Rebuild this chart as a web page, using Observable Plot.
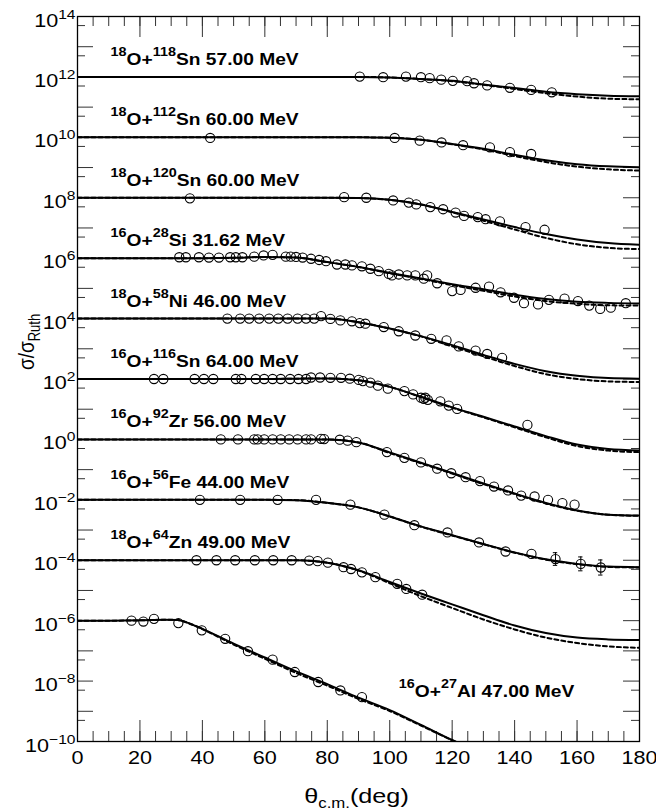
<!DOCTYPE html>
<html><head><meta charset="utf-8">
<script src="https://cdn.jsdelivr.net/npm/d3@7"></script>
<script src="https://cdn.jsdelivr.net/npm/@observablehq/plot@0.6"></script>
<style>body{margin:0;background:#fff}</style>
</head><body><div id="chart"></div>
<script>
// ---------- data ----------
const reactionLabels = [
  "^{18}O+^{118}Sn 57.00 MeV", "^{18}O+^{112}Sn 60.00 MeV", "^{18}O+^{120}Sn 60.00 MeV",
  "^{16}O+^{28}Si 31.62 MeV", "^{18}O+^{58}Ni 46.00 MeV", "^{16}O+^{116}Sn 64.00 MeV",
  "^{16}O+^{92}Zr 56.00 MeV", "^{16}O+^{56}Fe 44.00 MeV", "^{18}O+^{64}Zn 49.00 MeV",
  "^{16}O+^{27}Al 47.00 MeV"
];
// vertical offset (power of ten) applied to each reaction
const offsetExp = [12, 10, 8, 6, 4, 2, 0, -2, -4, -6];
// label anchor (theta, log10 y)
const labelTheta = [10.6, 10.6, 10.6, 10.6, 10.6, 10.6, 10.6, 10.6, 10.6, 102.9];
const labelExp = [12.4, 10.4, 8.4, 6.4, 4.4, 2.4, 0.4, -1.6, -3.6, -8.53];

// calculated curves, log10(sigma/sigma_Ruth) on a common angular grid
const theta = [0,10,20,30,40,50,60,70,80,90,100,110,120,130,140,150,160,170,180];
const solidLog = [
  [0,0,0,0,0,0,0,0,0,0,-0.02,-0.07,-0.13,-0.25,-0.37,-0.49,-0.57,-0.62,-0.64],
  [0,0,0,0,0,0,0,0,0,0,-0.01,-0.08,-0.22,-0.38,-0.58,-0.76,-0.89,-0.96,-0.99],
  [0,0,0,0,0,0,0,0,0,-0.01,-0.07,-0.22,-0.47,-0.72,-0.97,-1.20,-1.38,-1.50,-1.56],
  [0,0,0,0,0,0.01,0.04,0.02,-0.13,-0.29,-0.49,-0.67,-0.86,-1.03,-1.21,-1.35,-1.44,-1.48,-1.50],
  [0,0,0,0,0,0,0,0,0,-0.12,-0.33,-0.58,-0.88,-1.20,-1.50,-1.74,-1.89,-1.97,-1.99],
  [0,0,0,0,0,0,0,0.01,0.02,-0.04,-0.26,-0.59,-0.94,-1.25,-1.57,-1.89,-2.17,-2.32,-2.37],
  [0,0,0,0,0,0,0,0,0,-0.10,-0.43,-0.77,-1.11,-1.46,-1.79,-2.10,-2.35,-2.49,-2.52],
  [0,0,0,0,0,0,0,-0.01,-0.10,-0.25,-0.55,-0.88,-1.17,-1.46,-1.74,-1.97,-2.12,-2.21,-2.23],
  [0,0,0,0,0,0,0,0,-0.08,-0.33,-0.72,-1.10,-1.46,-1.82,-2.16,-2.41,-2.56,-2.62,-2.64]
];
const dashedLog = [
  [0,0,0,0,0,0,0,0,0,0,-0.02,-0.07,-0.14,-0.26,-0.40,-0.54,-0.65,-0.72,-0.74],
  [0,0,0,0,0,0,0,0,0,0,-0.01,-0.08,-0.23,-0.40,-0.62,-0.82,-0.97,-1.06,-1.10],
  [0,0,0,0,0,0,0,0,0,-0.01,-0.07,-0.22,-0.48,-0.76,-1.05,-1.33,-1.54,-1.66,-1.70],
  [0,0,0,0,0,0.01,0.04,0.02,-0.13,-0.29,-0.50,-0.69,-0.89,-1.08,-1.27,-1.42,-1.51,-1.56,-1.57],
  [0,0,0,0,0,0,0,0,0,-0.12,-0.33,-0.59,-0.92,-1.25,-1.57,-1.84,-2.00,-2.08,-2.10],
  [0,0,0,0,0,0,0,0.01,0.02,-0.04,-0.26,-0.60,-0.95,-1.27,-1.60,-1.93,-2.22,-2.37,-2.42],
  [0,0,0,0,0,0,0,0,0,-0.10,-0.45,-0.79,-1.13,-1.48,-1.81,-2.12,-2.36,-2.49,-2.53],
  [0,0,0,0,0,0,0,-0.01,-0.10,-0.25,-0.55,-0.89,-1.18,-1.47,-1.75,-1.98,-2.13,-2.22,-2.24],
  [0,0,0,0,0,0,0,0,-0.08,-0.34,-0.76,-1.19,-1.58,-1.96,-2.29,-2.56,-2.74,-2.85,-2.90]
];
// 16O+27Al has its own grid
const thetaAl = [0,10,20,28,32,36,40,50,60,70,80,90,100,110,120,130];
const solidLogAl = [0,0,0.01,0.03,0.02,-0.10,-0.27,-0.76,-1.22,-1.68,-2.10,-2.55,-2.96,-3.45,-3.95,-4.40];
const dashedLogAl = [0,0,0.01,0.03,0.02,-0.10,-0.28,-0.79,-1.26,-1.73,-2.15,-2.59,-2.99,-3.47,-3.96,-4.40];

// measured points [theta, log10(sigma/sigma_Ruth)]
const dataPoints = [
  [[90.4,0.01],[97.9,-0.01],[105.2,0.01],[110,-0.01],[112.8,-0.04],[116.5,-0.09],[120.2,-0.13],[124.8,-0.14],[127,-0.21],[131.2,-0.28],[138.5,-0.36],[145.3,-0.43],[151.9,-0.51]],
  [[42.5,-0.02],[101.6,-0.02],[109.6,-0.11],[116.6,-0.17],[123.5,-0.26],[132.1,-0.33],[138.5,-0.49],[145.3,-0.55]],
  [[36,-0.02],[85.4,0.02],[92.5,0],[101.1,-0.09],[106.1,-0.16],[108.5,-0.22],[113,-0.31],[117.1,-0.38],[121.1,-0.49],[123.8,-0.6],[128.2,-0.64],[130.7,-0.71],[135.3,-0.78],[143.5,-0.97],[149.6,-1.06]],
  [[32.6,0.03],[34.7,0.03],[38.9,0.03],[42.1,0.02],[45.3,0.02],[48.9,0.03],[50.7,0.03],[52.8,0.03],[56.6,0.05],[59.6,0.09],[62.5,0.11],[66.7,0.05],[68.3,0.05],[70,0.04],[72.1,0.02],[74.8,-0.02],[77.4,-0.06],[79.6,-0.1],
   [83.1,-0.21],[85.8,-0.21],[87.9,-0.24],[91.1,-0.27],[93.8,-0.35],[96.5,-0.43],[99.7,-0.52],[100.7,-0.57],[102.9,-0.54],[105.6,-0.57],[108.2,-0.57],[110.9,-0.68],[112,-0.57],[115.2,-0.83],[120,-1.09],[122.7,-1.05],[127.5,-0.98],[131.8,-0.94],[135.5,-1.13],[139.8,-1.31],[143,-1.49],[147.5,-1.53],[151,-1.38],[156,-1.34],[160.3,-1.42],[163.9,-1.57],[167.4,-1.68],[170.8,-1.64],[175.6,-1.49]],
  [[48,0],[52.1,0],[55,0],[58.2,0],[61.4,0],[64.3,0],[67.3,0],[70.5,0],[73.2,0],[75.8,0],[78,0.08],[81,-0.01],[84.2,-0.06],[87.9,-0.09],[90.4,-0.15],[92.2,-0.17],[98.1,-0.28],[102.9,-0.42],[108.2,-0.56],[113.3,-0.67],[118.2,-0.72],[122.1,-0.92],[127.5,-1.06],[131.2,-1.17],[136,-1.30]],
  [[24.5,0],[27.5,0],[37.5,0],[40.5,0],[43.5,0],[50.7,0],[52.5,0],[57.1,0],[59.8,0],[62.5,0],[65.1,0],[68.1,0],[70.8,0],[73.2,0],[74.8,0.05],[77.7,0.05],[81,0.04],[84.4,0.04],[87.2,0.01],[90.1,-0.03],[91.4,-0.07],[93.8,-0.12],[96.2,-0.22],[99.4,-0.32],[104.7,-0.4],[107.5,-0.51],[110,-0.62],[110.9,-0.66],[111.4,-0.62],[112.2,-0.69],[116.2,-0.74],[118.9,-0.88],[121.6,-0.99],[144.1,-1.52]],
  [[45.9,0],[51.4,0],[56.6,0],[57.7,0],[59.8,0],[62.5,0],[65.1,0],[67.8,0],[70.5,0],[73.2,0],[74.8,0],[78,0.02],[79,0.01],[84,-0.01],[86.5,-0.04],[89.3,-0.09],[99.1,-0.42],[104.7,-0.61],[110,-0.76],[115.2,-0.97],[119.7,-1.12],[124.3,-1.25],[128.9,-1.38],[133.4,-1.56],[137.9,-1.69],[142.1,-1.86],[146.4,-1.89],[150.7,-2.0],[155.3,-2.11],[159.2,-2.16]],
  [[39.2,0],[52.1,0],[64.1,0],[76.4,0],[87.4,-0.16],[98.3,-0.49],[107.9,-0.84],[118.5,-1.08],[128.6,-1.41],[137.1,-1.71],[145.4,-1.79],[153.1,-1.96],[161.2,-2.12],[167.6,-2.24]],
  [[38.1,0],[44.5,0],[50.5,0],[56.8,0],[62.7,0],[68.6,0],[74.2,-0.01],[76.9,-0.03],[80.2,-0.08],[85.2,-0.23],[87.6,-0.29],[91.1,-0.4],[95.4,-0.56],[102.4,-0.78],[105.3,-0.95],[110.4,-1.14]],
  [[17.3,0],[21.1,-0.03],[24.5,0.06],[32.3,-0.08],[39.8,-0.32],[47.3,-0.6],[54.6,-1.01],[62.5,-1.29],[69.6,-1.7],[77.1,-2.03],[84.2,-2.31],[91.1,-2.53]]
];
// error bars: [reaction index, theta, log10 value, log10 half-width]
const errorBars = [[7,153.1,-1.96,0.21],[7,161.2,-2.12,0.23],[7,167.6,-2.24,0.25]];

// axis ticks
const xMajor = [0,20,40,60,80,100,120,140,160,180];
const xMinor = d3.range(0,181,5);
const yDecadeExp = d3.range(-10,15);
const yHalfExp = d3.range(-10,14);
const yLabelExp = d3.range(-10,15,2);

// ---------- rows ----------
const solidRows = [], dashedRows = [];
solidLog.forEach((row,i)=>row.forEach((v,j)=>solidRows.push({r:i,theta:theta[j],y:10**(offsetExp[i]+v)})));
dashedLog.forEach((row,i)=>row.forEach((v,j)=>dashedRows.push({r:i,theta:theta[j],y:10**(offsetExp[i]+v)})));
solidLogAl.forEach((v,j)=>solidRows.push({r:9,theta:thetaAl[j],y:10**(offsetExp[9]+v)}));
dashedLogAl.forEach((v,j)=>dashedRows.push({r:9,theta:thetaAl[j],y:10**(offsetExp[9]+v)}));
const pointRows = dataPoints.flatMap((pts,i)=>pts.map(([t,v])=>({theta:t,y:10**(offsetExp[i]+v)})));
const errRows = errorBars.map(([i,t,v,e])=>({theta:t,lo:10**(offsetExp[i]+v-e),hi:10**(offsetExp[i]+v+e)}));
const capRows = errRows.flatMap(d=>[{theta:d.theta,y:d.lo},{theta:d.theta,y:d.hi}]);
const labelRows = reactionLabels.map((s,i)=>({text:s,theta:labelTheta[i],y:10**labelExp[i]}));

const PW = 656-77-17, PH = 811-16-70;
const tickColor = "#333";

const svg = Plot.plot({
  width: 656, height: 811,
  marginLeft: 77, marginRight: 17, marginTop: 16, marginBottom: 70,
  style: {fontFamily: "'Liberation Sans', Arial, sans-serif", background: "white", overflow: "visible"},
  x: {domain: [0,180], axis: null},
  y: {type: "log", domain: [1e-10, 1e14], axis: null},
  marks: [
    // ticks
    Plot.ruleX(xMajor, {x: d=>d, insetTop: PH-21, stroke: tickColor}),
    Plot.ruleX(xMajor, {x: d=>d, insetBottom: PH-21, stroke: tickColor}),
    Plot.ruleX(xMinor, {x: d=>d, insetTop: PH-10, stroke: tickColor}),
    Plot.ruleX(xMinor, {x: d=>d, insetBottom: PH-10, stroke: tickColor}),
    Plot.ruleY(yDecadeExp, {y: d=>10**d, insetRight: PW-16, stroke: tickColor}),
    Plot.ruleY(yDecadeExp, {y: d=>10**d, insetLeft: PW-16, stroke: tickColor}),
    Plot.ruleY(yHalfExp, {y: d=>5*10**d, insetRight: PW-8, stroke: tickColor}),
    Plot.ruleY(yHalfExp, {y: d=>5*10**d, insetLeft: PW-8, stroke: tickColor}),
    // curves
    Plot.line(dashedRows, {x: "theta", y: "y", z: "r", curve: "monotone-x", stroke: "black", strokeWidth: 2, strokeDasharray: "4,3", clip: true}),
    Plot.line(solidRows, {x: "theta", y: "y", z: "r", curve: "monotone-x", stroke: "black", strokeWidth: 2, clip: true}),
    // data
    Plot.ruleX(errRows, {x: "theta", y1: "lo", y2: "hi", stroke: "black", strokeWidth: 1}),
    Plot.ruleY(capRows, {y: "y", x1: d=>d.theta-0.7, x2: d=>d.theta+0.7, stroke: "black", strokeWidth: 1}),
    Plot.dot(pointRows, {x: "theta", y: "y", r: 4.6, stroke: "black", strokeWidth: 1.1, fill: "none"}),
    Plot.frame({stroke: "black", strokeWidth: 1.3}),
    // labels
    Plot.text(labelRows, {x: "theta", y: "y", text: "text", textAnchor: "start", lineAnchor: "bottom", fontSize: 16, fontWeight: "bold"}),
    Plot.text(yLabelExp, {y: d=>10**d, text: d=>`10^{${d<0?"\u2212"+(-d):d}}`, frameAnchor: "left", textAnchor: "end", lineAnchor: "bottom", dx: -2, dy: 10, fontSize: 18}),
    Plot.text(xMajor, {x: d=>d, text: d=>String(d), frameAnchor: "bottom", lineAnchor: "bottom", dy: 22, fontSize: 18}),
    Plot.text(["\u03b8_{c.m.}(deg)"], {text: d=>d, frameAnchor: "bottom", lineAnchor: "bottom", dy: 61, dx: -2, fontSize: 21}),
    Plot.text(["\u03c3/\u03c3_{Ruth}"], {text: d=>d, frameAnchor: "left", rotate: -90, lineAnchor: "bottom", dx: -44, dy: -9, fontSize: 19})
  ]
});

// rich text (super/subscripts) and horizontal stretch of glyphs
const NS = "http://www.w3.org/2000/svg";
const richRules = {16: {size: 12, up: 9, down: 5}, 18: {size: 13, up: 8, down: 5}, 21: {size: 14, up: 8, down: 5}, 19: {size: 13, up: 7, down: 5}};
svg.querySelectorAll("text").forEach(el => {
  const g = el.closest("g[font-size]");
  const fs = g ? parseFloat(g.getAttribute("font-size")) : 16;
  const rule = richRules[fs] || {size: fs*0.72, up: fs*0.45, down: fs*0.3};
  const s = el.textContent;
  if (/[\^_]\{/.test(s)) {
    const parts = s.split(/(\^\{[^}]*\}|_\{[^}]*\})/).filter(p=>p);
    el.textContent = "";
    let cur = 0;
    for (const p of parts) {
      let target = 0, str = p, size = null;
      if (p.startsWith("^{")) { target = -rule.up; str = p.slice(2,-1); size = rule.size; }
      else if (p.startsWith("_{")) { target = rule.down; str = p.slice(2,-1); size = rule.size; }
      const t = document.createElementNS(NS, "tspan");
      if (target - cur) t.setAttribute("dy", target - cur);
      if (size) t.setAttribute("font-size", size);
      t.textContent = str;
      el.appendChild(t);
      cur = target;
    }
  }
  const tr = el.getAttribute("transform") || "";
  el.setAttribute("transform", tr + (tr.includes("rotate") ? " scale(1,1.2)" : " scale(1.2,1)"));
});

document.getElementById("chart").appendChild(svg);
</script>
</body></html>
